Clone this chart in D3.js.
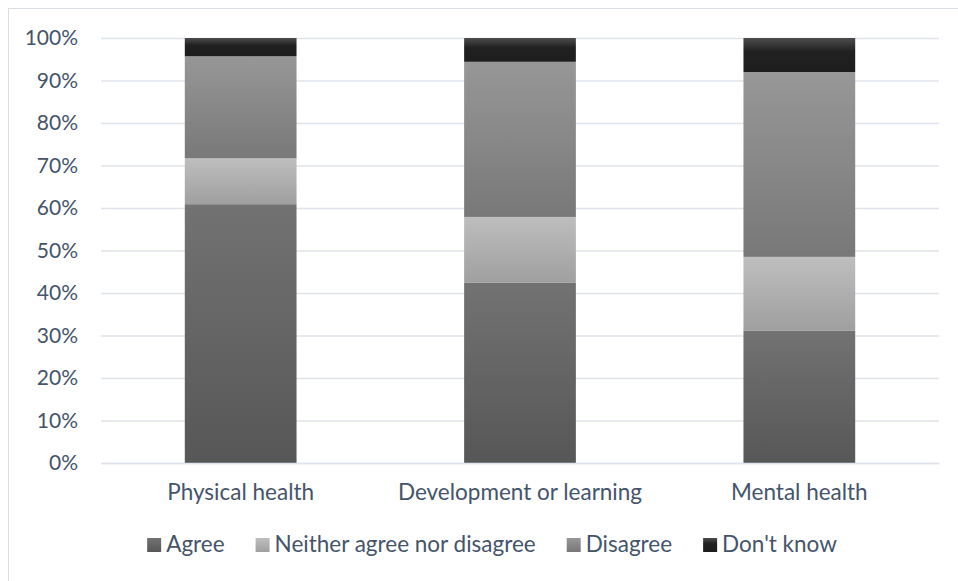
<!DOCTYPE html>
<html>
<head>
<meta charset="utf-8">
<script src="https://cdn.jsdelivr.net/npm/d3@7"></script>
<style>
  html, body { margin: 0; padding: 0; background: #fff; }
  svg { display: block; }
  text { font-family: Lato, "Open Sans", sans-serif; fill: #44546a; }
</style>
</head>
<body>
<svg id="chart" width="958" height="581"></svg>
<script>
// Survey responses by area, shares of respondents (%)
const categories = ["Physical health", "Development or learning", "Mental health"];
const seriesNames = ["Agree", "Neither agree nor disagree", "Disagree", "Don't know"];
const agree    = [60.9, 42.4, 31.1];
const neither  = [10.8, 15.5, 17.4];
const disagree = [24.0, 36.5, 43.5];
const dontKnow = [4.3, 5.6, 8.0];
const yTicks = [0, 10, 20, 30, 40, 50, 60, 70, 80, 90, 100];

const seriesValues = [agree, neither, disagree, dontKnow];
const rows = categories.map((c, i) => {
  const r = { category: c };
  seriesNames.forEach((s, j) => { r[s] = seriesValues[j][i]; });
  return r;
});

// Gradient fills (top colour, bottom colour, optional stops)
const fills = [
  [["0%", "#727272"], ["100%", "#575757"]],
  [["0%", "#bebebe"], ["100%", "#9f9f9f"]],
  [["0%", "#979797"], ["100%", "#787878"]],
  [["0%", "#4d4d4d"], ["40%", "#212121"], ["100%", "#1d1d1d"]]
];

const svg = d3.select("#chart");
const defs = svg.append("defs");
fills.forEach((stops, j) => {
  const g = defs.append("linearGradient")
    .attr("id", "grad" + j)
    .attr("x1", 0).attr("y1", 0).attr("x2", 0).attr("y2", 1);
  stops.forEach(([off, col]) => g.append("stop").attr("offset", off).attr("stop-color", col));
});

// Chart area frame
svg.append("rect")
  .attr("x", 8.5).attr("y", 8.5)
  .attr("width", 980).attr("height", 600)
  .attr("fill", "#fff")
  .attr("stroke", "#d9dde4").attr("stroke-width", 1);

const plot = { left: 101, right: 939, top: 38, bottom: 463 };
const tickFont = 21;
const labelFont = 22.5;

const x = d3.scaleBand().domain(categories).range([plot.left, plot.right]).padding(0);
const barW = x.bandwidth() * 0.4;
const y = d3.scaleLinear().domain([0, 100]).range([plot.bottom, plot.top]);

// Gridlines
const yAxis = d3.axisLeft(y).tickValues(yTicks).tickFormat(d => d + "%")
  .tickSize(-(plot.right - plot.left)).tickPadding(23);
const ga = svg.append("g").attr("transform", `translate(${plot.left},0)`).call(yAxis);
ga.select(".domain").remove();
ga.selectAll(".tick line").attr("stroke", "#dfe3ea").attr("stroke-width", 1.6);
ga.selectAll(".tick text")
  .attr("font-size", tickFont).attr("fill", "#44546a")
  .style("font-family", "Lato, 'Open Sans', sans-serif");

// Stacked bars
const stack = d3.stack().keys(seriesNames)(rows);
svg.append("g").selectAll("g")
  .data(stack).join("g")
  .attr("fill", (d, j) => `url(#grad${j})`)
  .selectAll("rect")
  .data(d => d).join("rect")
  .attr("x", d => x(d.data.category) + (x.bandwidth() - barW) / 2)
  .attr("width", barW)
  .attr("y", d => y(d[1]))
  .attr("height", d => y(d[0]) - y(d[1]));

// Category axis
const xAxis = d3.axisBottom(x).tickSize(0).tickPadding(21);
const gx = svg.append("g").attr("transform", `translate(0,${plot.bottom})`).call(xAxis);
gx.select(".domain").attr("stroke", "#dfe3ea").attr("stroke-width", 1.6);
gx.selectAll(".tick text")
  .attr("font-size", labelFont).attr("fill", "#44546a")
  .style("font-family", "Lato, 'Open Sans', sans-serif");

// Legend
const legend = svg.append("g");
const sq = 14, gapText = 5, gapItem = 31, legendY = 552, legendCenter = 492;
let cursor = 0;
seriesNames.forEach((name, j) => {
  const item = legend.append("g").attr("transform", `translate(${cursor},0)`);
  item.append("rect")
    .attr("x", 0).attr("y", legendY - 14)
    .attr("width", sq).attr("height", sq)
    .attr("fill", `url(#grad${j})`);
  const t = item.append("text")
    .attr("x", sq + gapText).attr("y", legendY)
    .attr("font-size", labelFont)
    .text(name);
  cursor += sq + gapText + t.node().getComputedTextLength() + gapItem;
});
const total = cursor - gapItem;
legend.attr("transform", `translate(${legendCenter - total / 2},0)`);
</script>
</body>
</html>
